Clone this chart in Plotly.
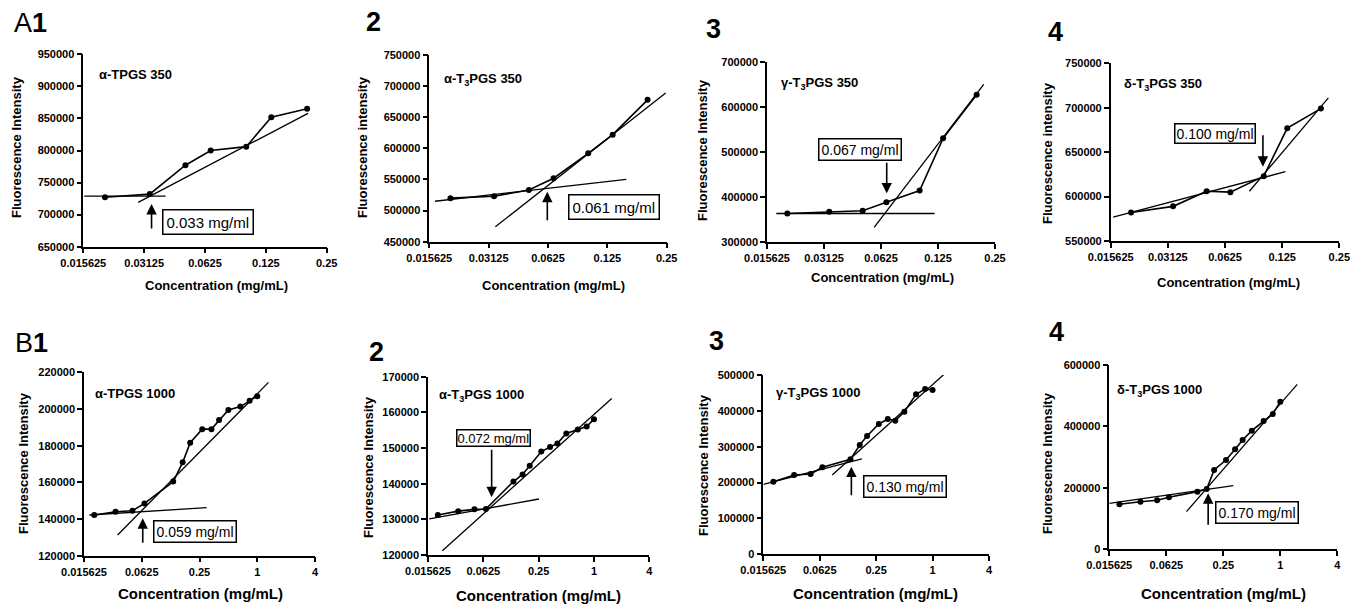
import math
import plotly.graph_objects as go

W, H = 1365, 608

# ---------------- data ----------------
conc_A = [0.02, 0.0333, 0.05, 0.0667, 0.1, 0.133, 0.2]
conc_B = [0.02, 0.0333, 0.05, 0.0667, 0.133, 0.167, 0.2, 0.267, 0.333, 0.4, 0.5, 0.667, 0.833, 1.0]

xticks_A = [0.015625, 0.03125, 0.0625, 0.125, 0.25]
xticklabels_A = ["0.015625", "0.03125", "0.0625", "0.125", "0.25"]
xticks_B = [0.015625, 0.0625, 0.25, 1, 4]
xticklabels_B = ["0.015625", "0.0625", "0.25", "1", "4"]

fi_A1 = [727000, 732000, 777000, 800000, 806000, 852000, 865000]
fi_A2 = [520000, 523000, 533000, 552000, 592000, 622000, 678000]
fi_A3 = [364000, 368000, 370000, 389000, 415000, 531000, 628000]
fi_A4 = [582000, 589000, 606000, 605000, 623000, 677000, 699000]
fi_B1 = [142200, 144000, 144500, 148500, 160400, 170900, 181600, 189000, 189000, 194000, 199500, 201300, 204500, 207000]
fi_B2 = [131200, 132300, 132800, 132900, 140600, 142600, 145000, 149000, 150300, 151300, 154100, 155200, 156000, 158100]
fi_B3 = [202600, 221200, 224000, 242600, 264900, 304800, 329900, 363400, 377300, 372700, 397800, 446000, 461000, 458000]
fi_B4 = [145700, 154300, 158700, 168500, 187000, 195700, 257600, 290200, 325000, 355400, 385900, 417400, 440200, 480400]

# fitted lines (endpoints)
low_A1_x, low_A1_y = [0.0158, 0.0399], [729000, 729000]
high_A1_x, high_A1_y = [0.0292, 0.202], [719000, 858000]
low_A2_x, low_A2_y = [0.0167, 0.156], [515000, 550000]
high_A2_x, high_A2_y = [0.0338, 0.247], [474000, 689000]
low_A3_x, low_A3_y = [0.0175, 0.12], [364000, 364000]
high_A3_x, high_A3_y = [0.0575, 0.218], [333000, 651000]
low_A4_x, low_A4_y = [0.0161, 0.13], [577000, 628000]
high_A4_x, high_A4_y = [0.084, 0.219], [606000, 711000]
low_B1_x, low_B1_y = [0.0178, 0.297], [142200, 146200]
high_B1_x, high_B1_y = [0.035, 1.31], [131300, 214500]
low_B2_x, low_B2_y = [0.0161, 0.252], [130100, 135700]
high_B2_x, high_B2_y = [0.0224, 1.56], [121200, 163900]
low_B3_x, low_B3_y = [0.0157, 0.176], [195200, 265800]
high_B3_x, high_B3_y = [0.085, 1.36], [221200, 504600]
low_B4_x, low_B4_y = [0.0156, 0.319], [148900, 206500]
high_B4_x, high_B4_y = [0.102, 1.51], [121700, 537000]

cmc_labels = ["0.033 mg/ml", "0.061 mg/ml", "0.067 mg/ml", "0.100 mg/ml",
              "0.059 mg/ml", "0.072 mg/ml", "0.130 mg/ml", "0.170 mg/ml"]
arrow_x = [0.034, 0.062, 0.067, 0.099, 0.064, 0.077, 0.136, 0.173]
arrow_y = [716600, 530300, 408900, 633600, 140400, 136200, 244300, 181600]

panel_titles = ["α-TPGS 350", "α-T<sub>3</sub>PGS 350", "γ-T<sub>3</sub>PGS 350", "δ-T<sub>3</sub>PGS 350",
                "α-TPGS 1000", "α-T<sub>3</sub>PGS 1000", "γ-T<sub>3</sub>PGS 1000", "δ-T<sub>3</sub>PGS 1000"]
y_titles = ["Fluorescence Intensity", "Fluorescence intensity", "Fluorescence Intensity", "Fluorescence intensity",
            "Fluorescence Intensity", "Fluorescence Intensity", "Fluorescence Intensity", "Fluorescence Intensity"]
panel_labels = ["A<b>1</b>", "<b>2</b>", "<b>3</b>", "<b>4</b>", "B<b>1</b>", "<b>2</b>", "<b>3</b>", "<b>4</b>"]
x_title = "Concentration (mg/mL)"

# ---------------- layout geometry (pixels) ----------------
def X(p):
    return p / W

def Y(p):
    return 1 - p / H

FONT = "Liberation Sans, Arial, sans-serif"

panels = [
    dict(x=conc_A, y=fi_A1, low=(low_A1_x, low_A1_y), high=(high_A1_x, high_A1_y),
         dom=(83.3, 326.7, 54.3, 246.7), yr=(650000, 950000), dt=50000, row="A",
         box=(207.8, 222.5), bf=15, bp=3, ay=26, title=(96.7, 75), lab=(12, 23), xt=(216, 285), yt=(16, 147)),
    dict(x=conc_A, y=fi_A2, low=(low_A2_x, low_A2_y), high=(high_A2_x, high_A2_y),
         dom=(429.3, 666.7, 55, 241.7), yr=(450000, 750000), dt=50000, row="A",
         box=(613.8, 207.5), bf=15, bp=3, ay=30, title=(441.7, 80), lab=(364, 22), xt=(553, 285), yt=(362, 147)),
    dict(x=conc_A, y=fi_A3, low=(low_A3_x, low_A3_y), high=(high_A3_x, high_A3_y),
         dom=(767, 995, 62.3, 242.3), yr=(300000, 700000), dt=100000, row="A",
         box=(860.3, 149.7), bf=14, bp=2, ay=-32, title=(779, 83), lab=(704, 29), xt=(882, 277), yt=(702, 150)),
    dict(x=conc_A, y=fi_A4, low=(low_A4_x, low_A4_y), high=(high_A4_x, high_A4_y),
         dom=(1110.7, 1339.3, 63.3, 241), yr=(550000, 750000), dt=50000, row="A",
         box=(1214.5, 133.8), bf=14, bp=1, ay=-33, title=(1121.7, 85), lab=(1046, 32), xt=(1228, 282), yt=(1047, 153)),
    dict(x=conc_B, y=fi_B1, low=(low_B1_x, low_B1_y), high=(high_B1_x, high_B1_y),
         dom=(84, 315, 372.3, 555.7), yr=(120000, 220000), dt=20000, row="B",
         box=(195, 531.7), bf=14, bp=2, ay=26, title=(93, 393), lab=(13, 343), xt=(200, 593), yt=(23, 463)),
    dict(x=conc_B, y=fi_B2, low=(low_B2_x, low_B2_y), high=(high_B2_x, high_B2_y),
         dom=(428, 649.3, 376.7, 555), yr=(120000, 170000), dt=10000, row="B",
         box=(493.3, 438.3), bf=13, bp=0, ay=-49, title=(437, 395), lab=(367, 352), xt=(538, 595), yt=(368, 467)),
    dict(x=conc_B, y=fi_B3, low=(low_B3_x, low_B3_y), high=(high_B3_x, high_B3_y),
         dom=(763.3, 989, 375, 554.3), yr=(0, 500000), dt=100000, row="B",
         box=(905, 486.3), bf=14, bp=2, ay=30, title=(774, 393), lab=(707, 341), xt=(875, 593), yt=(703, 465)),
    dict(x=conc_B, y=fi_B4, low=(low_B4_x, low_B4_y), high=(high_B4_x, high_B4_y),
         dom=(1109.3, 1337.3, 365, 549), yr=(0, 600000), dt=200000, row="B",
         box=(1256.7, 512.2), bf=14, bp=2, ay=33, title=(1115, 390), lab=(1047, 332), xt=(1223, 593), yt=(1047, 463)),
]

fig = go.Figure()
layout = dict(width=W, height=H, margin=dict(l=0, r=0, t=0, b=0, pad=0), autosize=False,
              paper_bgcolor="white", plot_bgcolor="white", showlegend=False,
              font=dict(family=FONT, color="black"))
annotations = []

for i, p in enumerate(panels):
    n = "" if i == 0 else str(i + 1)
    xa, ya = "x" + n, "y" + n
    x0, x1, y0, y1 = p["dom"]
    if p["row"] == "A":
        tv, tt, xr = xticks_A, xticklabels_A, (0.015625, 0.25)
        xtsize = 13
    else:
        tv, tt, xr = xticks_B, xticklabels_B, (0.015625, 4)
        xtsize = 15
    ytv = list(range(int(p["yr"][0]), int(p["yr"][1]) + 1, p["dt"]))
    ytt = ["<b>%d</b>" % v for v in ytv]
    axis_common = dict(showline=True, linecolor="black", linewidth=1.5, ticks="outside",
                       ticklen=5, tickwidth=1.5, tickcolor="black", showgrid=False, zeroline=False,
                       automargin=False,
                       tickfont=dict(family=FONT, size=11, color="black"))
    layout["xaxis" + n] = dict(axis_common, type="log", range=[math.log10(xr[0]), math.log10(xr[1])],
                               domain=[X(x0), X(x1)], anchor=ya, tickvals=tv,
                               ticktext=["<b>" + t + "</b>" for t in tt])
    layout["yaxis" + n] = dict(axis_common, range=list(p["yr"]), domain=[Y(y1), Y(y0)], anchor=xa,
                               tickvals=ytv, ticktext=ytt)

    for lx, ly in (p["low"], p["high"]):
        fig.add_trace(go.Scatter(x=lx, y=ly, mode="lines", xaxis=xa, yaxis=ya,
                                 line=dict(color="black", width=1.3), hoverinfo="skip"))
    fig.add_trace(go.Scatter(x=p["x"], y=p["y"], mode="lines+markers", xaxis=xa, yaxis=ya,
                             line=dict(color="black", width=1.6),
                             marker=dict(color="black", size=6, symbol="circle")))

    annotations.append(dict(x=math.log10(arrow_x[i]), y=arrow_y[i], xref=xa, yref=ya, text="",
                            showarrow=True, ax=0, ay=p["ay"], arrowhead=2, arrowsize=1.3,
                            arrowwidth=1.6, arrowcolor="black"))
    annotations.append(dict(x=X(p["box"][0]), y=Y(p["box"][1]), xref="paper", yref="paper",
                            text=cmc_labels[i], showarrow=False, bordercolor="black", borderwidth=1.5,
                            borderpad=p["bp"], bgcolor="white", xanchor="center", yanchor="middle",
                            font=dict(family=FONT, size=p["bf"], color="black")))
    annotations.append(dict(x=X(p["title"][0]), y=Y(p["title"][1]), xref="paper", yref="paper",
                            text="<b>" + panel_titles[i] + "</b>", showarrow=False,
                            xanchor="left", yanchor="middle", font=dict(family=FONT, size=13, color="black")))
    annotations.append(dict(x=X(p["lab"][0]), y=Y(p["lab"][1]), xref="paper", yref="paper",
                            text=panel_labels[i], showarrow=False, xanchor="left", yanchor="middle",
                            font=dict(family=FONT, size=27, color="black")))
    annotations.append(dict(x=X(p["xt"][0]), y=Y(p["xt"][1]), xref="paper", yref="paper",
                            text="<b>" + x_title + "</b>", showarrow=False, xanchor="center",
                            yanchor="middle", font=dict(family=FONT, size=xtsize, color="black")))
    annotations.append(dict(x=X(p["yt"][0]), y=Y(p["yt"][1]), xref="paper", yref="paper",
                            text="<b>" + y_titles[i] + "</b>", showarrow=False, textangle=-90,
                            xanchor="center", yanchor="middle", font=dict(family=FONT, size=13, color="black")))

layout["annotations"] = annotations
fig.update_layout(**layout)
fig.write_html("out.html")
